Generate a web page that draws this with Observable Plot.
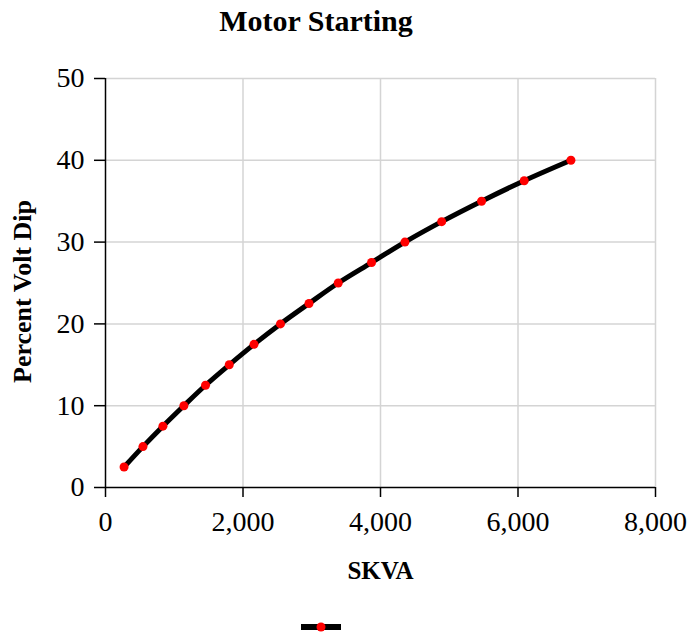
<!DOCTYPE html>
<html><head><meta charset="utf-8">
<script src="https://cdn.jsdelivr.net/npm/d3@7"></script>
<script src="https://cdn.jsdelivr.net/npm/@observablehq/plot@0.6"></script>
<style>
body{margin:0;background:#fff;font-family:"Liberation Serif","Times New Roman",serif;}
#title{width:632px;height:50px;line-height:41px;text-align:center;font-weight:bold;font-size:30px;color:#000;}
#legend{height:33px;}
#legend svg{display:block;}
</style></head><body>
<div id="title"></div>
<div id="chart"></div>
<div id="legend"><svg width="692" height="33"><line x1="301" x2="341" y1="27" y2="27" stroke="#000" stroke-width="6"/><circle cx="321" cy="27" r="4.5" fill="#ff0000"/></svg></div>
<script>
const skva = [270, 545, 835, 1140, 1455, 1800, 2160, 2545, 2960, 3385, 3870, 4355, 4890, 5470, 6090, 6770];
const voltDip = [2.5, 5, 7.5, 10, 12.5, 15, 17.5, 20, 22.5, 25, 27.5, 30, 32.5, 35, 37.5, 40];
const xTicks = [0, 2000, 4000, 6000, 8000];
const yTicks = [0, 10, 20, 30, 40, 50];
const titleText = "Motor Starting";
const xLabel = "SKVA";
const yLabel = "Percent Volt Dip";

document.getElementById("title").textContent = titleText;
const data = skva.map((x, i) => ({x, y: voltDip[i]}));

const chart = Plot.plot({
  width: 692,
  height: 550,
  marginTop: 28,
  marginBottom: 113,
  marginLeft: 105,
  marginRight: 37,
  style: {fontFamily: '"Liberation Serif","Times New Roman",serif', background: "#fff", color: "#000"},
  x: {domain: [0, 8000]},
  y: {domain: [0, 50]},
  marks: [
    Plot.ruleX(xTicks.slice(1), {stroke: "#d4d4d4", strokeWidth: 1.5}),
    Plot.ruleY(yTicks.slice(1), {stroke: "#d4d4d4", strokeWidth: 1.5}),
    Plot.ruleX([0], {stroke: "#000", strokeWidth: 1.5}),
    Plot.ruleY([0], {stroke: "#000", strokeWidth: 1.5}),
    Plot.axisX({ticks: xTicks, tickFormat: d3.format(","), tickSize: 10, tickPadding: 14, fontSize: 28, label: null, strokeWidth: 1.5}),
    Plot.axisY({ticks: yTicks, tickSize: 11, tickPadding: 10, fontSize: 28, label: null, strokeWidth: 1.5}),
    Plot.line(data, {x: "x", y: "y", stroke: "#000", strokeWidth: 5, curve: "catmull-rom"}),
    Plot.dot(data, {x: "x", y: "y", r: 4.5, fill: "#ff0000", stroke: "none"}),
    Plot.text([xLabel], {frameAnchor: "bottom", dy: 91, fontSize: 25, fontWeight: "bold", text: d => d}),
    Plot.text([yLabel], {frameAnchor: "left", textAnchor: "middle", lineAnchor: "middle", rotate: -90, dx: -83, dy: 8.5, fontSize: 26, fontWeight: "bold", text: d => d})
  ]
});
document.getElementById("chart").appendChild(chart);
</script>
</body></html>
